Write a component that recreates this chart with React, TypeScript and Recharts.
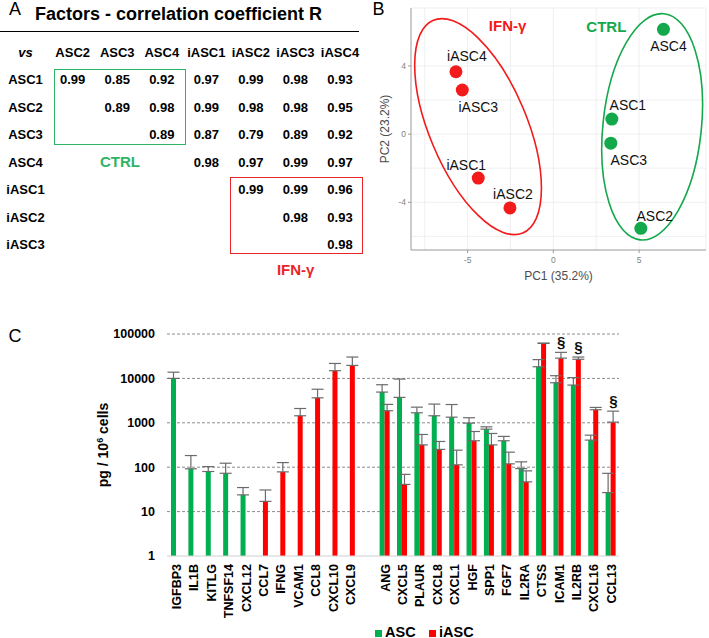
import React from 'react';
import {
    ComposedChart, Bar, ErrorBar, XAxis, YAxis, CartesianGrid, Scatter, ScatterChart,
} from 'recharts';

const FONT = '"Liberation Sans", Arial, Helvetica, sans-serif';
const GREEN = '#00b050';
const RED = '#ff0000';
const PCA_GREEN = '#14a84c';
const PCA_RED = '#f21a1a';

// ---------- A: factor correlation table ----------
const corrCols = ['ASC2', 'ASC3', 'ASC4', 'iASC1', 'iASC2', 'iASC3', 'iASC4'];
const corrRows = ['ASC1', 'ASC2', 'ASC3', 'ASC4', 'iASC1', 'iASC2', 'iASC3'];
const corrValues = [
    ['0.99', '0.85', '0.92', '0.97', '0.99', '0.98', '0.93'],
    ['', '0.89', '0.98', '0.99', '0.98', '0.98', '0.95'],
    ['', '', '0.89', '0.87', '0.79', '0.89', '0.92'],
    ['', '', '', '0.98', '0.97', '0.99', '0.97'],
    ['', '', '', '', '0.99', '0.99', '0.96'],
    ['', '', '', '', '', '0.98', '0.93'],
    ['', '', '', '', '', '', '0.98'],
];

// ---------- B: PCA ----------
const ascSamples = ['ASC1', 'ASC2', 'ASC3', 'ASC4'];
const ascPC1 = [3.41, 5.10, 3.35, 6.42];
const ascPC2 = [0.88, -5.53, -0.53, 6.15];
const iascSamples = ['iASC1', 'iASC2', 'iASC3', 'iASC4'];
const iascPC1 = [-4.38, -2.53, -5.31, -5.68];
const iascPC2 = [-2.58, -4.33, 2.59, 3.66];

// group ellipses: centre, semi axes (PC units), tilt (deg)
const groupNames = ['IFN-γ', 'CTRL'];
const groupCentrePC1 = [-4.39, 5.76];
const groupCentrePC2 = [0.44, 0.43];
const groupMajor = [6.77, 6.67];
const groupMinor = [2.84, 2.87];
const groupTilt = [-22.8, 6];
const groupLabelPC1 = [-2.67, 3.09];
const groupLabelPC2 = [6.05, 6.02];

// ---------- C: secreted factors ----------
const factors = ['IGFBP3', 'IL1B', 'KITLG', 'TNFSF14', 'CXCL12', 'CCL7', 'IFNG', 'VCAM1', 'CCL8', 'CXCL10', 'CXCL9', '',
    'ANG', 'CXCL5', 'PLAUR', 'CXCL8', 'CXCL1', 'HGF', 'SPP1', 'FGF7', 'IL2RA', 'CTSS', 'ICAM1', 'IL2RB', 'CXCL16', 'CCL13'];
const ascLevels = [10000, 92, 80, 73, 23.8, null, null, null, null, null, null, null,
    4920, 3730, 1680, 1440, 1340, 985, 720, 394, 93, 18300, 7990, 7070, 408, 26.8];
const ascErrors = [3800, 91, 23, 50, 11, null, null, null, null, null, null, null,
    2280, 5930, 570, 1200, 1240, 315, 92, 100, 39, 8200, 3510, 3330, 119, 46];
const iascLevels = [null, null, null, null, null, 17, 78.5, 1440, 3650, 14900, 19600, null,
    1870, 41, 318, 252, 113, 394, 318, 119, 46.7, 61500, 28600, 27000, 1970, 1035];
const iascErrors = [null, null, null, null, null, 13.7, 48.5, 660, 2050, 6800, 10700, null,
    730, 28, 228, 128, 129, 243, 257, 99, 36, 800, 10000, 3300, 250, 795];
const flagged = ['ICAM1', 'IL2RB', 'CCL13'];
const logTicks = [1, 10, 100, 1000, 10000, 100000];

// label placement next to each PCA point (px, style only)
const labelOffsets: Record<string, [number, number]> = {
    iASC4: [11, -16], iASC3: [16, 17], iASC1: [-12, -13], iASC2: [3, -14],
    ASC4: [5, 17], ASC1: [16, -14], ASC3: [18, 17], ASC2: [14, -12],
};
const groupColors: Record<string, string> = { 'IFN-γ': PCA_RED, CTRL: PCA_GREEN };

const PC1_DOMAIN = [-8.3, 8.9];
const PC2_DOMAIN = [-6.8, 7.4];
const PCA_W = 349, PCA_H = 300;
const PCA_MARGIN = { top: 8, right: 3, bottom: 0, left: 0 };
const PCA_YW = 51, PCA_XH = 50;
const PX_PC1 = (PCA_W - PCA_YW - PCA_MARGIN.right) / (PC1_DOMAIN[1] - PC1_DOMAIN[0]);
const PX_PC2 = (PCA_H - PCA_MARGIN.top - PCA_XH) / (PC2_DOMAIN[1] - PC2_DOMAIN[0]);

const ascPoints = ascSamples.map((name, i) => ({ name, x: ascPC1[i], y: ascPC2[i] }));
const iascPoints = iascSamples.map((name, i) => ({ name, x: iascPC1[i], y: iascPC2[i] }));
const ellipses = groupNames.map((name, i) => ({
    name, x: groupCentrePC1[i], y: groupCentrePC2[i], a: groupMajor[i], b: groupMinor[i], tilt: groupTilt[i],
}));
const groupLabels = groupNames.map((name, i) => ({ name, x: groupLabelPC1[i], y: groupLabelPC2[i] }));

const rows = factors.map((name, i) => ({
    name,
    asc: ascLevels[i],
    ascErr: ascErrors[i] == null ? null : [0, ascErrors[i]],
    iasc: iascLevels[i],
    iascErr: iascErrors[i] == null ? null : [0, iascErrors[i]],
    sig: flagged.includes(name) ? (iascLevels[i] as number) + (iascErrors[i] as number) : null,
}));

const pointShape = (color: string) => (props: any) => {
    const { cx, cy, payload } = props;
    const [dx, dy] = labelOffsets[payload.name] || [0, -14];
    return (
        <g>
            <circle cx={cx} cy={cy} r={6.5} fill={color} />
            <text x={cx + dx} y={cy + dy} dy="0.35em" textAnchor="middle" fontSize={14} fill="#111" fontFamily={FONT}>
                {payload.name}
            </text>
        </g>
    );
};

const ellipseShape = (props: any) => {
    const { cx, cy, payload } = props;
    return (
        <ellipse cx={cx} cy={cy} rx={payload.b * PX_PC1} ry={payload.a * PX_PC2}
            transform={`rotate(${payload.tilt} ${cx} ${cy})`}
            fill="none" stroke={groupColors[payload.name]} strokeWidth={1.6} />
    );
};

const groupLabelShape = (props: any) => {
    const { cx, cy, payload } = props;
    return (
        <text x={cx} y={cy} textAnchor="middle" fontSize={15} fontWeight="bold"
            fill={groupColors[payload.name]} fontFamily={FONT}>{payload.name}</text>
    );
};

const sigShape = (props: any) => {
    const { cx, cy, payload } = props;
    if (payload.sig == null || cy == null || isNaN(cy)) return <g />;
    return (
        <text x={cx + 3} y={cy - 5} textAnchor="middle" fontSize={15} fontWeight="bold" fill="#111" fontFamily={FONT}>§</text>
    );
};

const FactorTick = (props: any) => {
    const { x, y, payload } = props;
    return (
        <text x={x + 1} y={y} transform={`rotate(-90 ${x + 1} ${y})`} textAnchor="end" dy="0.35em"
            fontSize={12.5} fontWeight="bold" fill="#000" fontFamily={FONT}>{payload.value}</text>
    );
};

const PgLabel = (props: any) => {
    const { viewBox } = props;
    const cx = viewBox.x + 103;
    const cy = viewBox.y + viewBox.height / 2;
    return (
        <text x={cx} y={cy} transform={`rotate(-90 ${cx} ${cy})`} textAnchor="middle" dy="0.35em"
            fontSize={14} fontWeight="bold" fill="#000" fontFamily={FONT}>
            pg / 10<tspan dy="-5" fontSize={9}>6</tspan><tspan dy="5"> cells</tspan>
        </text>
    );
};

const Pc2Label = (props: any) => {
    const { viewBox } = props;
    const cx = viewBox.x + 25;
    const cy = viewBox.y + viewBox.height / 2;
    return (
        <text x={cx} y={cy} transform={`rotate(-90 ${cx} ${cy})`} textAnchor="middle" dy="0.35em"
            fontSize={12} fill="#4d4d4d" fontFamily={FONT}>PC2 (23.2%)</text>
    );
};

const T = ({ x, y, children, style }: any) => (
    <div style={{
        position: 'absolute', left: x, top: y, transform: 'translate(-50%, -50%)',
        lineHeight: 1, whiteSpace: 'nowrap', ...style,
    }}>{children}</div>
);

export default function App() {
    const cell = { fontSize: 13, fontWeight: 'bold' as const };
    const colX = (i: number) => 72.7 + i * 44.55;
    const rowY = (i: number) => 79.3 + i * 27.45;
    const legendText = { position: 'absolute' as const, top: 625.5, fontSize: 14.5, fontWeight: 'bold' as const, lineHeight: '12px' };

    return (
        <div style={{ position: 'absolute', left: 0, top: 0, width: 709, height: 638, background: '#fff', fontFamily: FONT, color: '#000' }}>

            {/* A: correlation table */}
            <T x={15} y={8.5} style={{ fontSize: 18 }}>A</T>
            <div style={{ position: 'absolute', left: 35, top: 5, fontSize: 18, fontWeight: 'bold', lineHeight: 1, whiteSpace: 'nowrap' }}>
                Factors - correlation coefficient R
            </div>
            <div style={{ position: 'absolute', left: 0, top: 31, width: 359, height: 1.3, background: '#000' }} />
            <T x={25.5} y={51.7} style={{ ...cell, fontStyle: 'italic' }}>vs</T>
            {corrCols.map((c, i) => <T key={c} x={colX(i)} y={51.7} style={cell}>{c}</T>)}
            {corrRows.map((r, j) => (
                <React.Fragment key={r}>
                    <T x={25.5} y={rowY(j)} style={cell}>{r}</T>
                    {corrValues[j].map((v, i) => v ? <T key={i} x={colX(i)} y={rowY(j)} style={cell}>{v}</T> : null)}
                </React.Fragment>
            ))}
            <div style={{ position: 'absolute', left: 54, top: 69, width: 132, height: 76, border: '1.5px solid #2db466', boxSizing: 'border-box' }} />
            <T x={120} y={161} style={{ fontSize: 15, fontWeight: 'bold', color: '#2db466' }}>CTRL</T>
            <div style={{ position: 'absolute', left: 230, top: 177, width: 133, height: 77, border: '1.5px solid #e8262a', boxSizing: 'border-box' }} />
            <T x={295.7} y={268.5} style={{ fontSize: 15, fontWeight: 'bold', color: '#e8262a' }}>IFN-γ</T>

            {/* B: PCA */}
            <T x={378.5} y={8.5} style={{ fontSize: 18 }}>B</T>
            <div style={{ position: 'absolute', left: 360, top: 0 }}>
                <ScatterChart width={PCA_W} height={PCA_H} margin={PCA_MARGIN}>
                    <CartesianGrid stroke="#ebebeb" strokeWidth={0.8}
                        verticalValues={[-7.5, -5, -2.5, 0, 2.5, 5, 7.5, 8.9]}
                        horizontalValues={[-6, -4, -2, 0, 2, 4, 6, 7.4]} />
                    <XAxis type="number" dataKey="x" domain={PC1_DOMAIN} ticks={[-5, 0, 5]} allowDataOverflow
                        height={PCA_XH} tickSize={3} tickMargin={4} stroke="#999"
                        tick={{ fontSize: 8.5, fill: '#7f7f7f', fontFamily: FONT }}
                        label={{ value: 'PC1 (35.2%)', position: 'insideBottom', offset: 20, fontSize: 12, fill: '#4d4d4d', fontFamily: FONT }} />
                    <YAxis type="number" dataKey="y" domain={PC2_DOMAIN} ticks={[-4, 0, 4]} allowDataOverflow
                        width={PCA_YW} tickSize={3} tickMargin={2} stroke="#999"
                        tick={{ fontSize: 8.5, fill: '#7f7f7f', fontFamily: FONT }}
                        label={{ content: Pc2Label }} />
                    <Scatter data={ellipses} shape={ellipseShape} isAnimationActive={false} />
                    <Scatter data={groupLabels} shape={groupLabelShape} isAnimationActive={false} />
                    <Scatter data={iascPoints} shape={pointShape(PCA_RED)} isAnimationActive={false} />
                    <Scatter data={ascPoints} shape={pointShape(PCA_GREEN)} isAnimationActive={false} />
                </ScatterChart>
            </div>

            {/* C: secreted factors */}
            <T x={15} y={336} style={{ fontSize: 18 }}>C</T>
            <div style={{ position: 'absolute', left: 0, top: 300 }}>
                <ComposedChart width={709} height={338} data={rows} barGap={0}
                    margin={{ top: 34, right: 90, bottom: 0, left: 0 }}>
                    <CartesianGrid vertical={false} stroke="#8c8c8c" strokeDasharray="3 2"
                        horizontalValues={[10, 100, 1000, 10000, 100000]} />
                    <XAxis dataKey="name" interval={0} height={82} tickLine={false}
                        axisLine={{ stroke: '#d0d0d0' }} tick={<FactorTick />} />
                    <YAxis scale="log" domain={[1, 100000]} ticks={logTicks} allowDataOverflow width={167}
                        axisLine={false} tickLine={false} tickSize={6} tickMargin={6}
                        tickFormatter={(v: number) => String(v)}
                        tick={{ fontSize: 12.5, fontWeight: 'bold', fill: '#000', fontFamily: FONT }}
                        label={{ content: PgLabel }} />
                    <Bar dataKey="asc" fill={GREEN} barSize={5} isAnimationActive={false}>
                        <ErrorBar dataKey="ascErr" width={6} stroke="#6b6b6b" strokeWidth={1.2} isAnimationActive={false} />
                    </Bar>
                    <Bar dataKey="iasc" fill={RED} barSize={5} isAnimationActive={false}>
                        <ErrorBar dataKey="iascErr" width={6} stroke="#6b6b6b" strokeWidth={1.2} isAnimationActive={false} />
                    </Bar>
                    <Scatter dataKey="sig" shape={sigShape} isAnimationActive={false} />
                </ComposedChart>
            </div>

            {/* legend */}
            <div style={{ position: 'absolute', left: 375, top: 630, width: 7, height: 7, background: GREEN }} />
            <div style={{ ...legendText, left: 385 }}>ASC</div>
            <div style={{ position: 'absolute', left: 428.5, top: 630, width: 7, height: 7, background: RED }} />
            <div style={{ ...legendText, left: 439 }}>iASC</div>
        </div>
    );
}
